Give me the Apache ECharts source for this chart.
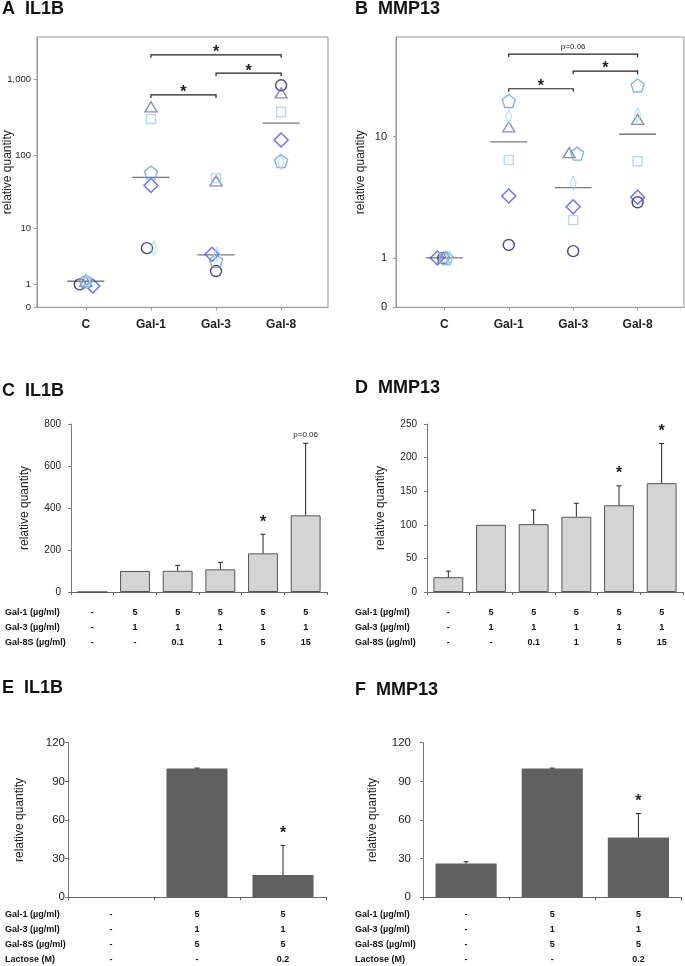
<!DOCTYPE html>
<html>
<head>
<meta charset="utf-8">
<script src="https://cdn.jsdelivr.net/npm/echarts@6/dist/echarts.min.js"></script>
<style>html,body{margin:0;padding:0;background:#fff}#c{width:685px;height:966px}</style>
</head>
<body>
<div id="c"></div>
<script>
// ---------------- DATA ----------------
// Panels A/B: groups and per-donor values (C, Gal-1, Gal-3, Gal-8)
const groupsAB = ['C', 'Gal-1', 'Gal-3', 'Gal-8'];
const ticksA = [0, 1, 10, 100, 1000];
const ticksB = [0, 1, 10];

const aCircle   = [1.0, 5.0, 2.0, 830];
const aDiamond  = [0.9, 39, 4.0, 158];
const aTriangle = [1.2, 432, 45, 660];
const aSquare   = [1.2, 298, 49, 370];
const aPentagon = [1.2, 58, 3.1, 83];
const aThin     = [1.2, 5.0, 4.0, 80];
const aMedian   = [1.2, 50, 3.9, 264];

const bCircle   = [1.0, 1.4, 1.2, 3.37];
const bDiamond  = [1.0, 3.77, 3.1, 3.69];
const bTriangle = [1.0, 11.6, 7.77, 13.0];
const bSquare   = [1.0, 6.9, 2.4, 6.77];
const bPentagon = [1.0, 17.1, 7.65, 21.5];
const bThin     = [1.0, 13.5, 4.7, 13.9];
const bMedian   = [1.0, 9.2, 4.37, 10.35];

// significance brackets: [fromGroup, toGroup, level value, text]
const bracketsA = [[2, 4, 2090, '*'], [3, 4, 1200, '*'], [2, 3, 620, '*']];
const bracketsB = [[2, 4, 34, 'p=0.06'], [3, 4, 26.5, '*'], [2, 3, 20.5, '*']];

// Panels C/D
const rowHeadCD = ['Gal-1 (µg/ml)', 'Gal-3 (µg/ml)', 'Gal-8S (µg/ml)'];
const gal1CD  = ['-', '5', '5', '5', '5', '5'];
const gal3CD  = ['-', '1', '1', '1', '1', '1'];
const gal8sCD = ['-', '-', '0.1', '1', '5', '15'];
const meanC = [0, 100, 101, 108, 184, 365];
const errC  = [null, null, 26, 33, 91, 343];
const noteC = ['', '', '', '', '*', 'p=0.06'];
const meanD = [22, 100, 101, 112, 129, 162];
const errD  = [9, null, 21, 20, 29, 59];
const noteD = ['', '', '', '', '*', '*'];

// Panels E/F
const rowHeadEF = ['Gal-1 (µg/ml)', 'Gal-3 (µg/ml)', 'Gal-8S (µg/ml)', 'Lactose (M)'];
const gal1EF  = ['-', '5', '5'];
const gal3EF  = ['-', '1', '1'];
const gal8sEF = ['-', '5', '5'];
const lactEF  = ['-', '-', '0.2'];
const meanE = [0, 100, 17.3];
const errE  = [null, 0.3, 23];
const noteE = ['', '', '*'];
const meanF = [26.3, 100, 46.5];
const errF  = [1.3, 0.3, 18.5];
const noteF = ['', '', '*'];

const titles = ['A  IL1B', 'B  MMP13', 'C  IL1B', 'D  MMP13', 'E  IL1B', 'F  MMP13'];
const yName = 'relative quantity';

// ---------------- STYLE ----------------
const FONT = '"Liberation Sans", Arial, Helvetica, sans-serif';
const NARROW = '"Liberation Sans Narrow", "Arial Narrow", "Liberation Sans", Arial, sans-serif';
const tf = v => Math.log10(v + 1);
const fmt = n => String(n).replace(/\B(?=(\d{3})+(?!\d))/g, ',');
const PENT = 'path://M50,0 L97.6,34.5 L79.4,90.5 L20.6,90.5 L2.4,34.5 Z';

const donorStyle = {
  circle:   { symbol: 'circle',   size: 11,      color: '#1c1c6b' },
  diamond:  { symbol: 'diamond',  size: [14, 14], color: '#4848f2' },
  triangle: { symbol: 'triangle', size: [12, 10], color: '#6f6fa3' },
  square:   { symbol: 'rect',     size: 9,       color: '#a7cdef' },
  pentagon: { symbol: PENT,       size: 13,      color: '#6b9fdb' },
  thin:     { symbol: 'diamond',  size: [6, 14],  color: '#9fe0ea' }
};
// horizontal pixel nudges so overlapping points stay visible
const jitterA = { circle: [-6, -4, 0, 0], diamond: [7, 0, -4, 0], triangle: [0, 0, 0, 0], square: [0, 0, 0, 0], pentagon: [0, 0, 0, 0], thin: [1, 3, 1, 0] };
const jitterB = { circle: [-1, 0, 0, 0], diamond: [-7, 0, 0, 0], triangle: [-1, 0, -4, 0], square: [0, 0, 0, 0], pentagon: [2, 0, 4, 0], thin: [5, 0, 0, 0] };

const donorsA = { circle: aCircle, diamond: aDiamond, triangle: aTriangle, square: aSquare, pentagon: aPentagon, thin: aThin };
const donorsB = { circle: bCircle, diamond: bDiamond, triangle: bTriangle, square: bSquare, pentagon: bPentagon, thin: bThin };

function scatterSeries(axisIdx, donors, jitter) {
  return Object.keys(donors).map(k => {
    const s = donorStyle[k];
    return {
      type: 'scatter', xAxisIndex: axisIdx, yAxisIndex: axisIdx, z: 3,
      symbol: s.symbol, symbolSize: s.size,
      itemStyle: { color: 'rgba(0,0,0,0)', borderColor: s.color, borderWidth: 1.4 },
      data: donors[k].map((v, i) => ({ value: [i + 1, tf(v)], symbolOffset: [jitter[k][i], 0] })),
      silent: true
    };
  });
}
function medianSeries(axisIdx, med) {
  return {
    type: 'scatter', xAxisIndex: axisIdx, yAxisIndex: axisIdx, z: 2,
    symbol: 'rect', symbolSize: [37, 1.3],
    itemStyle: { color: '#555' },
    data: med.map((v, i) => [i + 1, tf(v)]), silent: true
  };
}
function bracketSeries(axisIdx, br, starDy, pDy) {
  return {
    type: 'custom', xAxisIndex: axisIdx, yAxisIndex: axisIdx, z: 4,
    encode: { x: [0, 1], y: 2 },
    data: br.map(b => [b[0], b[1], tf(b[2])]),
    renderItem: (params, api) => {
      const p1 = api.coord([api.value(0), api.value(2)]);
      const p2 = api.coord([api.value(1), api.value(2)]);
      const txt = br[params.dataIndex][3];
      const isStar = txt === '*';
      return {
        type: 'group', children: [
          { type: 'polyline', shape: { points: [[p1[0], p1[1] + 3], p1, p2, [p2[0], p2[1] + 3]] },
            style: { stroke: '#222', lineWidth: 1.2, fill: null } },
          { type: 'text', style: { text: txt, x: (p1[0] + p2[0]) / 2, y: p1[1] - (isStar ? starDy : pDy),
            align: 'center', verticalAlign: 'middle',
            font: isStar ? 'bold 16px ' + FONT : '8px ' + FONT, fill: '#222' } }
        ]
      };
    }
  };
}

function barSeries(axisIdx, means, fill, border, width) {
  return {
    type: 'bar', xAxisIndex: axisIdx, yAxisIndex: axisIdx, barWidth: width,
    itemStyle: { color: fill, borderColor: border, borderWidth: border ? 1 : 0 },
    data: means, silent: true
  };
}
function errSeries(axisIdx, means, errs, notes) {
  return {
    type: 'custom', xAxisIndex: axisIdx, yAxisIndex: axisIdx, z: 5,
    encode: { x: 0, y: 1 },
    data: means.map((m, i) => [i, m, errs[i] == null ? -1 : errs[i]]),
    renderItem: (params, api) => {
      const i = api.value(0), m = api.value(1), e = api.value(2);
      const ch = [];
      const base = api.coord([i, m]);
      const top = api.coord([i, m + Math.max(e, 0)]);
      if (e >= 0) {
        ch.push({ type: 'line', shape: { x1: base[0], y1: base[1], x2: top[0], y2: top[1] }, style: { stroke: '#222', lineWidth: 1 } });
        ch.push({ type: 'line', shape: { x1: top[0] - 2.5, y1: top[1], x2: top[0] + 2.5, y2: top[1] }, style: { stroke: '#222', lineWidth: 1 } });
      }
      const note = notes[params.dataIndex];
      if (note) {
        const star = note === '*';
        ch.push({ type: 'text', style: { text: note, x: top[0], y: top[1] - (star ? 12 : 9),
          align: 'center', verticalAlign: 'middle', font: star ? 'bold 16px ' + FONT : '8px ' + FONT, fill: '#222' } });
      }
      return { type: 'group', children: ch };
    }
  };
}

// ---------------- AXES ----------------
const boxGrid = (l, t, w, h) => ({ left: l, top: t, width: w, height: h, outerBoundsMode: 'none', containLabel: false, show: true, borderColor: '#999', borderWidth: 1, backgroundColor: 'transparent' });
const plainGrid = (l, t, w, h) => ({ left: l, top: t, width: w, height: h, outerBoundsMode: 'none', containLabel: false });

function scatterX(gi) {
  return {
    type: 'value', gridIndex: gi, min: 0.25, max: 4.72,
    axisLine: { show: true, lineStyle: { color: '#999' } },
    axisTick: { show: true, length: 3, lineStyle: { color: '#999' }, customValues: [1, 2, 3, 4] },
    axisLabel: { customValues: [1, 2, 3, 4], formatter: v => groupsAB[Math.round(v) - 1], margin: 11,
      fontSize: 12, fontWeight: 'bold', fontFamily: FONT, color: '#222' },
    splitLine: { show: false }
  };
}
function scatterY(gi, ticks, max, margin, gap, size) {
  const tv = ticks.map(tf);
  return {
    type: 'value', gridIndex: gi, min: 0, max: max,
    axisLine: { show: true, lineStyle: { color: '#999' } },
    axisTick: { show: true, length: 3, lineStyle: { color: '#999' }, customValues: tv },
    axisLabel: { customValues: tv, formatter: v => fmt(Math.round(Math.pow(10, v) - 1)), margin: margin,
      fontSize: size, fontFamily: NARROW, color: '#222' },
    splitLine: { show: false },
    name: yName, nameLocation: 'middle', nameGap: gap, nameMoveOverlap: false,
    nameTextStyle: { fontSize: 12, fontFamily: FONT, color: '#222' }
  };
}
function barX(gi, n, rows, margin) {
  return {
    type: 'category', gridIndex: gi, data: Array.from({ length: n }, (_, i) => String(i)), boundaryGap: true,
    axisLine: { show: true, lineStyle: { color: '#666' } },
    axisTick: { show: true, length: 3, lineStyle: { color: '#666' } },
    axisLabel: { interval: 0, margin: margin, lineHeight: 15, fontSize: 9, fontWeight: 'bold', fontFamily: FONT, color: '#111',
      formatter: (v, i) => rows.map(r => r[i]).join('\n') },
    splitLine: { show: false }
  };
}
function barY(gi, max, interval, margin, gap, lblFont, lblSize) {
  return {
    type: 'value', gridIndex: gi, min: 0, max: max, interval: interval,
    axisLine: { show: true, lineStyle: { color: '#777' } },
    axisTick: { show: true, length: 3, lineStyle: { color: '#777' } },
    axisLabel: { margin: margin, fontSize: lblSize, fontFamily: lblFont, color: '#222' },
    splitLine: { show: false },
    name: yName, nameLocation: 'middle', nameGap: gap, nameMoveOverlap: false,
    nameTextStyle: { fontSize: 12, fontFamily: FONT, color: '#222' }
  };
}

// ---------------- GRAPHIC TEXT ----------------
const graphics = [];
const titlePos = [[2, 9.5], [355, 9.5], [2, 391.5], [355, 388], [2, 688], [355, 690]];
titles.forEach((t, i) => graphics.push({ type: 'text', x: titlePos[i][0], y: titlePos[i][1],
  style: { text: t, font: 'bold 18px ' + FONT, fill: '#111', verticalAlign: 'middle', textVerticalAlign: 'middle' } }));
function rowHeads(heads, x, y0) {
  heads.forEach((h, i) => graphics.push({ type: 'text', x: x, y: y0 + i * 15,
    style: { text: h, font: 'bold 9px ' + FONT, fill: '#111', verticalAlign: 'middle', textVerticalAlign: 'middle' } }));
}
rowHeads(rowHeadCD, 5, 612.7);
rowHeads(rowHeadCD, 355, 612.7);
rowHeads(rowHeadEF, 5, 915);
rowHeads(rowHeadEF, 355, 915);

// ---------------- OPTION ----------------
const chart = echarts.init(document.getElementById('c'), null, { renderer: 'canvas' });
const option = {
  animation: false,
  backgroundColor: '#fff',
  textStyle: { fontFamily: FONT },
  grid: [
    boxGrid(37, 37, 291, 270.3),
    boxGrid(396, 37, 288, 270.3),
    plainGrid(71, 424, 256, 168),
    plainGrid(427, 424, 256, 168),
    plainGrid(68, 742.7, 258, 154.6),
    plainGrid(423, 742.7, 258.5, 154.6)
  ],
  xAxis: [
    scatterX(0), scatterX(1),
    barX(2, 6, [gal1CD, gal3CD, gal8sCD], 13),
    barX(3, 6, [gal1CD, gal3CD, gal8sCD], 13),
    barX(4, 3, [gal1EF, gal3EF, gal8sEF, lactEF], 10),
    barX(5, 3, [gal1EF, gal3EF, gal8sEF, lactEF], 10)
  ],
  yAxis: [
    scatterY(0, ticksA, 3.555, 6, 23, 9.5),
    scatterY(1, ticksB, 1.648, 9, 29, 11),
    barY(2, 800, 200, 10, 40, FONT, 10),
    barY(3, 250, 50, 10, 40, FONT, 10),
    barY(4, 120, 30, 3, 42, NARROW, 11.5),
    barY(5, 120, 30, 12, 44, NARROW, 11.5)
  ],
  graphic: graphics,
  series: [
    medianSeries(0, aMedian),
    ...scatterSeries(0, donorsA, jitterA),
    bracketSeries(0, bracketsA, 2, 7),
    medianSeries(1, bMedian),
    ...scatterSeries(1, donorsB, jitterB),
    bracketSeries(1, bracketsB, 2.5, 7),
    barSeries(2, meanC, '#d4d4d4', '#555', '70%'),
    errSeries(2, meanC, errC, noteC),
    barSeries(3, meanD, '#d4d4d4', '#555', '70%'),
    errSeries(3, meanD, errD, noteD),
    barSeries(4, meanE, '#606060', null, '71%'),
    errSeries(4, meanE, errE, noteE),
    barSeries(5, meanF, '#606060', null, '71%'),
    errSeries(5, meanF, errF, noteF)
  ]
};
chart.setOption(option);
</script>
</body>
</html>
